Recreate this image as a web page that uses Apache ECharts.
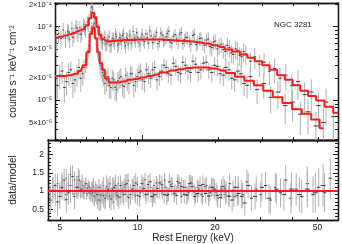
<!DOCTYPE html>
<html><head><meta charset="utf-8">
<script src="https://cdn.jsdelivr.net/npm/echarts@6/dist/echarts.min.js"></script>
<style>html,body{margin:0;padding:0;background:#fff}#c{width:342px;height:244px}</style>
</head><body><div id="c"></div>
<script>
// ---------- tick labels / tick positions ----------
const xLabels = [5, 10, 20, 50];
const xMajor = [10];
const xMinor = [5, 6, 7, 8, 9, 20, 30, 40, 50];
const yTopLabels = [5e-6, 1e-5, 2e-5, 5e-5, 1e-4, 2e-4];
const yTopMajor = [1e-5, 1e-4];
const yTopMinor = [3e-6, 4e-6, 5e-6, 6e-6, 7e-6, 8e-6, 9e-6, 2e-5, 3e-5, 4e-5, 5e-5, 6e-5, 7e-5, 8e-5, 9e-5, 2e-4];
const yBotLabels = [0.5, 1, 1.5, 2];
const yBotMajor = [0.5, 1, 1.5, 2];
const yBotMinor = [0.3, 0.4, 0.6, 0.7, 0.8, 0.9, 1.1, 1.2, 1.3, 1.4, 1.6, 1.7, 1.8, 1.9, 2.1, 2.2, 2.3];
const X_RANGE = [4.5, 60];
const Y_TOP_RANGE = [2.9e-6, 2.1e-4];
const Y_BOT_RANGE = [0.2, 2.4];

// ---------- upper spectrum, set A ----------
const upE = [4.55,4.65,4.75,4.85,4.95,5.05,5.15,5.25,5.35,5.45,5.55,5.65,5.75,5.85,5.95,6.05,
 6.15,6.25,6.35,6.45,6.55,6.65,6.75,6.85,6.95,7.05,7.15,
 7.3,7.45,7.6,7.75,7.9,8.05,8.2,8.35,8.5,8.65,8.8,8.95,9.1,9.3,9.5,9.7,9.9,10.1,10.35,10.6,10.85,11.1,11.4,11.7,12.0,12.3,12.6,12.9,13.3,13.7,
 14.1,14.5,14.9,15.4,15.9,16.4,16.9,17.4,18.0,18.6,19.2,19.9,
 20.6,21.4,22.2,23.0,23.9,24.8,25.8,26.9,28.0,29.2,30.5,32.0,33.6,35.3,37.2,39.3,41.6,44.2,47.0,50.2,53.8,57.5];
const upV = [6.2e-5,8.1e-5,6.9e-5,9.0e-5,7.0e-5,8.8e-5,6.8e-5,9.5e-5,7.9e-5,1.02e-4,8.0e-5,9.8e-5,8.5e-5,1.08e-4,9.1e-5,1.15e-4,
 1.25e-4,1.62e-4,1.75e-4,1.48e-4,1.2e-4,9.6e-5,8.2e-5,7.3e-5,6.1e-5,6.9e-5,5.8e-5,
 6.7e-5,5.5e-5,7.0e-5,6.0e-5,7.4e-5,5.9e-5,6.8e-5,7.6e-5,6.1e-5,7.2e-5,5.8e-5,7.8e-5,6.4e-5,7.0e-5,8.3e-5,6.2e-5,7.3e-5,6.6e-5,8.0e-5,6.0e-5,7.5e-5,6.9e-5,8.4e-5,6.3e-5,7.7e-5,6.5e-5,8.1e-5,6.2e-5,7.4e-5,6.8e-5,
 7.9e-5,5.9e-5,7.2e-5,6.4e-5,7.6e-5,5.7e-5,6.9e-5,6.0e-5,6.6e-5,5.4e-5,6.2e-5,5.0e-5,
 5.8e-5,4.6e-5,5.2e-5,4.2e-5,4.8e-5,3.9e-5,4.3e-5,3.4e-5,3.9e-5,3.1e-5,3.3e-5,2.5e-5,2.7e-5,2.0e-5,2.2e-5,1.6e-5,1.8e-5,1.2e-5,1.3e-5,8.5e-6,9.5e-6,6.0e-6];
const upErr = [0.28,0.26,0.27,0.25,0.26,0.24,0.25,0.23,0.24,0.22,0.23,0.22,0.23,0.21,0.22,0.20,
 0.18,0.16,0.14,0.15,0.17,0.19,0.20,0.20,0.21,0.20,0.21,
 0.19,0.20,0.18,0.19,0.18,0.19,0.18,0.17,0.18,0.17,0.18,0.17,0.18,0.17,0.16,0.17,0.16,0.17,0.16,0.17,0.16,0.17,0.16,0.17,0.16,0.17,0.16,0.17,0.16,0.17,
 0.18,0.18,0.19,0.19,0.19,0.20,0.20,0.21,0.21,0.22,0.22,0.23,
 0.24,0.25,0.26,0.27,0.28,0.29,0.30,0.31,0.32,0.33,0.34,0.36,0.37,0.38,0.40,0.42,0.44,0.46,0.48,0.50,0.52,0.55];

// ---------- upper spectrum, set B ----------
const up2E = [5.1,5.3,5.5,5.7,5.9,6.1,6.3,6.5,6.7,6.9,
 7.1,7.23,7.38,7.53,7.68,7.83,7.98,8.13,8.28,8.43,
 8.58,8.73,8.88,9.03,9.2,9.4,9.6,9.8,10.0,10.2,
 10.5,10.7,11.0,11.25,11.55,11.85,12.15,12.45,12.75,13.1,
 13.5,13.9,14.3,14.7,15.1,15.6,16.1,16.6,17.1,17.7,
 18.3,18.9,19.5,20.2,21.0,21.8,22.6,23.5,24.4,25.3];
const up2V = [8.5e-5,7.2e-5,9.6e-5,7.9e-5,1.0e-4,1.05e-4,1.85e-4,1.3e-4,8.8e-5,6.6e-5,
 7.2e-5,6.0e-5,7.3e-5,5.7e-5,6.8e-5,7.9e-5,5.6e-5,7.1e-5,6.3e-5,8.0e-5,
 5.5e-5,6.9e-5,7.5e-5,6.0e-5,8.6e-5,6.5e-5,7.2e-5,5.8e-5,7.9e-5,6.3e-5,
 7.1e-5,8.8e-5,6.1e-5,7.4e-5,5.9e-5,8.2e-5,6.6e-5,7.3e-5,8.7e-5,6.0e-5,
 7.8e-5,6.3e-5,8.3e-5,6.7e-5,7.1e-5,5.8e-5,7.9e-5,6.2e-5,7.0e-5,5.6e-5,
 6.8e-5,5.2e-5,6.4e-5,5.5e-5,4.9e-5,5.6e-5,4.4e-5,5.0e-5,4.1e-5,4.6e-5];
const up2Err = [0.26,0.25,0.25,0.24,0.23,0.2,0.16,0.18,0.21,0.23,
 0.23,0.22,0.23,0.22,0.22,0.21,0.22,0.21,0.22,0.21,
 0.21,0.2,0.21,0.2,0.21,0.2,0.2,0.21,0.2,0.2,
 0.2,0.19,0.2,0.2,0.2,0.19,0.2,0.2,0.19,0.2,
 0.2,0.21,0.2,0.21,0.21,0.22,0.21,0.22,0.22,0.23,
 0.23,0.24,0.24,0.25,0.25,0.26,0.27,0.27,0.28,0.29];

// ---------- lower spectrum, set A ----------
const loE = [4.6,4.8,5.0,5.2,5.4,5.6,5.8,5.95,6.1,6.2,
 6.3,6.4,6.5,6.6,6.7,6.8,6.95,7.1,7.3,7.5,
 7.7,7.9,8.1,8.35,8.6,8.85,9.1,9.4,9.7,10.0,
 10.4,10.8,11.2,11.7,12.2,12.7,13.3,13.9,14.5,15.2,
 15.9,16.7,17.5,18.4,19.4,20.4,21.5,22.7,24.0,25.4,
 26.9,28.6,30.4,32.4,34.6,37.0,39.6,42.5,45.6,49.0,
 52.5];
const loV = [1.6e-5,2.5e-5,1.8e-5,2.6e-5,1.9e-5,2.8e-5,2.3e-5,3.3e-5,4.8e-5,7.5e-5,
 1.0e-4,1.05e-4,8.0e-5,5.5e-5,4.2e-5,3.0e-5,2.4e-5,1.7e-5,2.1e-5,1.5e-5,
 1.9e-5,1.4e-5,2.0e-5,1.6e-5,2.2e-5,1.7e-5,2.3e-5,1.8e-5,2.4e-5,1.9e-5,
 2.6e-5,2.0e-5,2.8e-5,2.1e-5,3.0e-5,2.3e-5,3.2e-5,2.4e-5,3.3e-5,2.5e-5,
 3.4e-5,2.4e-5,3.2e-5,2.6e-5,3.0e-5,2.3e-5,2.8e-5,2.0e-5,2.5e-5,1.7e-5,
 2.1e-5,1.4e-5,1.7e-5,1.1e-5,1.3e-5,8.5e-6,9.5e-6,6.5e-6,7.0e-6,4.5e-6,
 5.0e-6];
const loErr = [0.35,0.32,0.34,0.31,0.33,0.30,0.31,0.28,0.22,0.18,
 0.15,0.14,0.16,0.19,0.22,0.25,0.27,0.30,0.28,0.31,
 0.29,0.31,0.28,0.30,0.27,0.29,0.26,0.28,0.26,0.27,
 0.25,0.26,0.24,0.25,0.23,0.24,0.23,0.24,0.23,0.24,
 0.24,0.25,0.25,0.26,0.27,0.28,0.29,0.30,0.31,0.33,
 0.34,0.36,0.38,0.40,0.42,0.44,0.46,0.48,0.50,0.54,
 0.58];

// ---------- lower spectrum, set B ----------
const lo2E = [4.7,4.9,5.1,5.3,5.5,5.7,5.87,6.02,6.15,6.25,
 6.35,6.45,6.55,6.65,6.75,6.87,7.02,7.2,7.4,7.6,
 7.8,8.0,8.22,8.47,8.72,8.97,9.25,9.55,9.85,10.2,
 10.6,11.0,11.45,11.95,12.45,13.0,13.6,14.2,14.85,15.55,
 16.3,17.1,17.95,18.9,19.9,21.0,22.1,23.3,24.7,26.1];
const lo2V = [2.2e-5,1.5e-5,2.4e-5,1.7e-5,2.3e-5,2.0e-5,2.8e-5,3.6e-5,5.5e-5,8.5e-5,
 9.0e-5,1.1e-4,6.8e-5,4.8e-5,3.6e-5,2.7e-5,2.2e-5,1.9e-5,1.6e-5,2.0e-5,
 1.5e-5,1.85e-5,2.1e-5,1.55e-5,1.9e-5,2.3e-5,1.6e-5,2.1e-5,2.5e-5,1.8e-5,
 2.3e-5,2.6e-5,1.9e-5,2.5e-5,2.8e-5,2.2e-5,2.9e-5,2.3e-5,3.0e-5,2.4e-5,
 3.1e-5,2.6e-5,3.3e-5,2.4e-5,2.9e-5,2.2e-5,2.6e-5,1.9e-5,2.3e-5,1.6e-5];
const lo2Err = [0.36,0.38,0.34,0.37,0.33,0.35,0.3,0.26,0.2,0.17,
 0.16,0.15,0.18,0.21,0.24,0.27,0.29,0.31,0.33,0.31,
 0.33,0.31,0.3,0.32,0.3,0.28,0.31,0.29,0.27,0.29,
 0.27,0.26,0.28,0.26,0.25,0.27,0.25,0.26,0.25,0.26,
 0.25,0.26,0.25,0.27,0.27,0.29,0.29,0.31,0.31,0.34];

// ---------- models ----------
const upModE = [4.5,4.7,4.9,5.1,5.3,5.5,5.7,5.9,6.05,6.2,6.35,6.5,6.65,6.8,6.95,7.1,7.3,7.6,8.0,8.5,9.0,9.6,10.3,11.0,11.8,12.6,13.5,14.5,15.5,16.6,17.8,19.1,20.5,22.0,23.6,25.3,27.1,29.0,31.0,33.2,35.6,38.2,41.0,44.0,47.3,51.0,55.0,60.0];
const upModV = [7.1e-5,7.3e-5,7.6e-5,7.9e-5,8.2e-5,8.6e-5,9.0e-5,9.4e-5,1.05e-4,1.3e-4,1.55e-4,1.35e-4,1.0e-4,7.8e-5,6.8e-5,6.4e-5,6.3e-5,6.4e-5,6.5e-5,6.6e-5,6.6e-5,6.7e-5,6.7e-5,6.7e-5,6.7e-5,6.6e-5,6.5e-5,6.4e-5,6.3e-5,6.1e-5,5.9e-5,5.6e-5,5.3e-5,4.9e-5,4.6e-5,4.2e-5,3.8e-5,3.4e-5,3.0e-5,2.6e-5,2.2e-5,1.9e-5,1.6e-5,1.35e-5,1.15e-5,1.0e-5,8.2e-6,6.8e-6];
const loModE = [4.5,4.8,5.1,5.4,5.7,5.9,6.1,6.25,6.4,6.55,6.7,6.85,7.0,7.2,7.5,7.9,8.3,8.8,9.3,9.9,10.6,11.3,12.1,13.0,14.0,15.0,16.2,17.5,19.0,20.6,22.4,24.4,26.6,29.0,31.6,34.5,37.7,41.2,45.0,49.0,52.5];
const loModV = [2.15e-5,2.15e-5,2.2e-5,2.3e-5,2.5e-5,3.0e-5,4.5e-5,8.0e-5,9.7e-5,7.0e-5,4.5e-5,3.2e-5,2.6e-5,2.0e-5,1.75e-5,1.75e-5,1.8e-5,1.9e-5,1.95e-5,2.05e-5,2.15e-5,2.25e-5,2.4e-5,2.55e-5,2.65e-5,2.75e-5,2.8e-5,2.8e-5,2.7e-5,2.55e-5,2.35e-5,2.1e-5,1.85e-5,1.6e-5,1.35e-5,1.1e-5,9.2e-6,7.6e-6,6.6e-6,5.5e-6,4.2e-6];

// ---------- ratios (data/model) ----------
const r1E = [4.6,4.7,4.8,4.9,5.0,5.1,5.2,5.3,5.4,5.5,
 5.6,5.7,5.8,5.9,6.0,6.1,6.2,6.3,6.4,6.5,
 6.6,6.7,6.8,6.9,7.0,7.1,7.2,7.35,7.5,7.65,
 7.8,7.95,8.1,8.25,8.4,8.6,8.8,9.0,9.2,9.4,
 9.6,9.8,10.0,10.25,10.5,10.75,11.0,11.3,11.6,11.9,
 12.2,12.5,12.8,13.2,13.6,14.0,14.4,14.8,15.3,15.8,
 16.3,16.8,17.3,17.9,18.5,19.1,19.8,20.5,21.2,22.0,
 22.8,23.7,24.6,25.6,26.6,27.7,28.9,30.1,31.4,32.8,
 34.3,35.9,37.6,39.4,41.3,43.4,45.6,48.0,50.5,53.2,
 56.0];
const r1V = [0.85,1.1,0.9,1.2,0.95,1.25,1.0,1.35,1.2,1.45,
 1.15,1.3,1.1,1.4,1.05,1.25,0.95,1.15,1.0,1.1,
 0.9,1.05,0.8,0.95,0.75,0.9,0.7,0.85,0.75,0.95,
 0.8,0.9,0.7,0.95,0.85,1.05,0.9,1.1,0.85,1.0,
 1.15,0.9,1.05,0.95,1.2,0.9,1.1,0.85,1.15,1.0,
 1.25,0.95,1.1,0.9,1.2,1.0,1.15,0.85,1.1,0.95,
 1.2,0.9,1.05,0.85,1.15,0.95,1.1,0.8,1.05,0.9,
 1.2,0.85,1.1,0.9,1.25,0.8,1.05,0.9,1.15,0.75,
 1.1,0.95,1.3,0.8,1.05,0.85,1.2,0.9,1.1,0.95,
 1.35];
const r1Err = [0.3,0.28,0.3,0.27,0.29,0.26,0.28,0.25,0.27,0.24,
 0.26,0.24,0.25,0.23,0.22,0.2,0.18,0.16,0.15,0.16,
 0.18,0.2,0.22,0.23,0.24,0.23,0.24,0.22,0.23,0.21,
 0.22,0.2,0.21,0.19,0.2,0.18,0.19,0.18,0.19,0.17,
 0.18,0.17,0.18,0.17,0.18,0.17,0.18,0.17,0.18,0.17,
 0.18,0.17,0.18,0.18,0.19,0.19,0.2,0.2,0.21,0.21,
 0.22,0.22,0.23,0.23,0.24,0.24,0.25,0.26,0.27,0.28,
 0.29,0.3,0.31,0.32,0.33,0.34,0.35,0.36,0.37,0.38,
 0.39,0.4,0.42,0.43,0.45,0.46,0.48,0.5,0.52,0.54,
 0.56];
const r2V = [0.75,1.15,0.85,1.3,0.95,1.4,1.1,1.3,1.05,0.95,
 1.2,1.08,1.1,0.92,0.95,0.85,0.9,0.75,1.0,0.8,
 1.05,0.78,1.1,0.88,1.15,0.9,1.2,0.9,1.15,0.88,
 1.2,0.9,1.25,0.9,1.22,0.9,1.25,0.92,1.22,0.9,
 1.2,0.85,1.15,0.93,1.1,0.88,1.12,0.85,1.1,0.85,
 1.15,0.85,1.1,0.8,1.05,0.9,1.05,0.9,1.05,0.95,
 1.15];
const r3V = [1.08,0.9,1.15,0.92,1.1,1.0,1.2,0.95,0.88,0.97,
 1.1,0.92,1.15,0.88,1.05,1.2,0.85,1.08,0.95,1.2,
 0.83,1.03,1.12,0.9,1.28,0.97,1.07,0.86,1.18,0.94,
 1.06,1.31,0.91,1.1,0.88,1.22,0.99,1.09,1.3,0.9,
 1.17,0.95,1.26,1.02,1.09,0.9,1.23,0.97,1.1,0.9,
 1.12,0.87,1.1,0.97,0.9,1.06,0.87,1.02,0.87,1.02];
const r4V = [1.02,0.7,1.1,0.76,1.0,0.85,1.1,1.05,1.15,1.1,
 0.93,1.15,0.95,1.05,1.12,0.98,0.9,0.88,0.88,1.12,
 0.86,1.05,1.15,0.83,0.98,1.18,0.82,1.05,1.22,0.85,
 1.07,1.18,0.84,1.07,1.17,0.88,1.12,0.88,1.12,0.88,
 1.12,0.93,1.18,0.86,1.05,0.82,0.98,0.75,0.93,0.67];
const ratioRef = 1;

// ---------- drawing ----------
const FONT = 'Liberation Sans, Arial, sans-serif';
const AX = '#1a1a1a';
const RED = '#ff1a1a';
const SUP = {'-':'⁻','0':'⁰','1':'¹','2':'²','3':'³','4':'⁴','5':'⁵','6':'⁶','7':'⁷','8':'⁸','9':'⁹'};
function sciLabel(v) {
  const e = Math.floor(Math.log10(v) + 1e-6);
  const m = Math.round(v / Math.pow(10, e));
  const s = String(e).split('').map(c => SUP[c]).join('');
  return (m === 1 ? '' : m + '×') + '10' + s;
}
function ax(type, gi, pos, range, ticks, len, extra) {
  const a = {
    type: type, gridIndex: gi, position: pos, min: range[0], max: range[1],
    axisLine: {show: true, onZero: false, lineStyle: {color: AX, width: 1.3}},
    axisTick: {show: true, inside: true, length: len, customValues: ticks, lineStyle: {color: AX, width: 1}},
    axisLabel: {show: false}, splitLine: {show: false},
    minorTick: {show: false}, minorSplitLine: {show: false}
  };
  if (type === 'log') a.logBase = 10;
  return Object.assign(a, extra || {});
}
const lblStyle = {fontFamily: FONT, fontSize: 8.5, color: '#222'};
const nameStyle = {fontFamily: FONT, fontSize: 10, color: '#222'};
const xAxes = [
  ax('log', 0, 'bottom', X_RANGE, xMajor, 5),
  ax('log', 0, 'bottom', X_RANGE, xMinor, 3),
  ax('log', 0, 'top', X_RANGE, xMajor, 5),
  ax('log', 0, 'top', X_RANGE, xMinor, 3),
  ax('log', 1, 'bottom', X_RANGE, xMajor, 5, {
    axisLabel: Object.assign({show: true, customValues: xLabels, margin: 3, formatter: v => String(Math.round(v))}, lblStyle),
    name: 'Rest Energy (keV)', nameLocation: 'middle', nameGap: 12, nameTextStyle: nameStyle
  }),
  ax('log', 1, 'bottom', X_RANGE, xMinor, 3),
  ax('log', 1, 'top', X_RANGE, xMajor, 5),
  ax('log', 1, 'top', X_RANGE, xMinor, 3)
];
const yAxes = [
  ax('log', 0, 'left', Y_TOP_RANGE, yTopMajor, 5, {
    axisLabel: Object.assign({show: true, customValues: yTopLabels, margin: 3, formatter: v => sciLabel(v)}, lblStyle, {fontSize: 7.5}),
    name: 'counts s⁻¹ keV⁻¹ cm⁻²', nameLocation: 'middle', nameGap: 30, nameTextStyle: nameStyle
  }),
  ax('log', 0, 'left', Y_TOP_RANGE, yTopMinor, 3),
  ax('log', 0, 'right', Y_TOP_RANGE, yTopMajor, 5),
  ax('log', 0, 'right', Y_TOP_RANGE, yTopMinor, 3),
  ax('value', 1, 'left', Y_BOT_RANGE, yBotMajor, 5, {
    axisLabel: Object.assign({show: true, customValues: yBotLabels, margin: 4, formatter: v => String(+v.toFixed(1))}, lblStyle),
    name: 'data/model', nameLocation: 'middle', nameGap: 30, nameTextStyle: nameStyle
  }),
  ax('value', 1, 'left', Y_BOT_RANGE, yBotMinor, 3),
  ax('value', 1, 'right', Y_BOT_RANGE, yBotMajor, 5),
  ax('value', 1, 'right', Y_BOT_RANGE, yBotMinor, 3)
];

function errSeries(E, V, Er, xi, yi, relative) {
  return {
    type: 'custom', xAxisIndex: xi, yAxisIndex: yi, clip: true, z: 2, silent: true,
    data: E.map((e, i) => [e, V[i], Er[i], i > 0 ? e / E[i - 1] : E[1] / E[0], i < E.length - 1 ? E[i + 1] / e : e / E[i - 1]]),
    renderItem: function (params, api) {
      const e = api.value(0), v = api.value(1), er = api.value(2);
      const gl = api.value(3), gr = api.value(4);
      const hi = relative ? v * (1 + er) : v + er;
      const lo = relative ? v * (1 - er) : v - er;
      const p = api.coord([e, v]);
      const t = api.coord([e, hi]);
      const b = api.coord([e, lo]);
      const l = api.coord([e / Math.pow(gl, 0.3), v]);
      const r = api.coord([e * Math.pow(gr, 0.3), v]);
      return {type: 'group', children: [
        {type: 'line', shape: {x1: p[0], y1: t[1], x2: p[0], y2: b[1]}, style: {stroke: '#b0b0b0', lineWidth: 1}},
        {type: 'line', shape: {x1: l[0], y1: p[1], x2: r[0], y2: p[1]}, style: {stroke: '#3a3a3a', lineWidth: 1}}
      ]};
    }
  };
}
function modelSeries(E, V, xi, yi) {
  return {
    type: 'line', xAxisIndex: xi, yAxisIndex: yi, step: 'middle', symbol: 'none', showSymbol: false,
    data: E.map((e, i) => [e, V[i]]), lineStyle: {color: RED, width: 2}, z: 5, silent: true, clip: true
  };
}

const chart = echarts.init(document.getElementById('c'), null, {renderer: 'canvas'});
chart.setOption({
  animation: false,
  backgroundColor: '#fff',
  grid: [
    {left: 44, right: 4, top: 3, height: 137},
    {left: 44, right: 4, top: 140, height: 81}
  ],
  xAxis: xAxes,
  yAxis: yAxes,
  graphic: [{
    type: 'text', left: 274, top: 21,
    style: {text: 'NGC 3281', font: '8px ' + FONT, fill: '#222'}
  }],
  series: [
    errSeries(upE, upV, upErr, 0, 0, true),
    errSeries(up2E, up2V, up2Err, 0, 0, true),
    errSeries(loE, loV, loErr, 0, 0, true),
    errSeries(lo2E, lo2V, lo2Err, 0, 0, true),
    modelSeries(upModE, upModV, 0, 0),
    modelSeries(loModE, loModV, 0, 0),
    errSeries(r1E, r1V, r1Err, 4, 4, false),
    errSeries(up2E, r3V, up2Err, 4, 4, false),
    errSeries(lo2E, r4V, lo2Err, 4, 4, false),
    Object.assign(errSeries(loE, r2V, loErr, 4, 4, false), {
      markLine: {silent: true, symbol: 'none', animation: false, label: {show: false},
        lineStyle: {color: RED, width: 2, type: 'solid'}, data: [{yAxis: ratioRef}], z: 5}
    })
  ]
});
</script>
</body></html>
